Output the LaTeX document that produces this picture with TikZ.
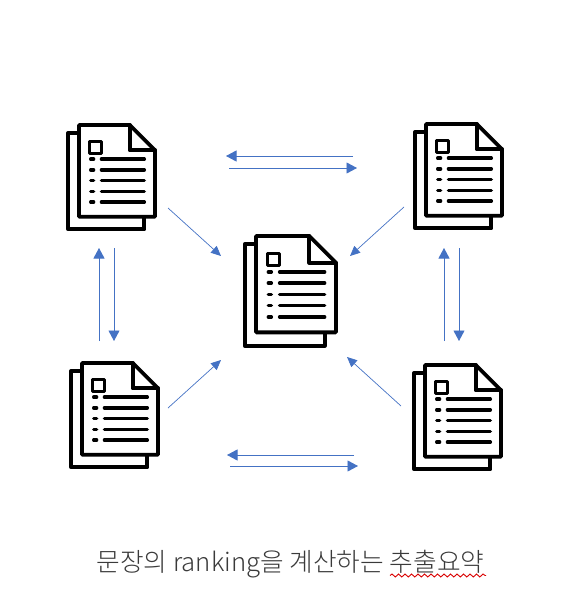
\documentclass[tikz,border=0pt]{standalone}
\usepackage{fontspec}
\newfontfamily\krfont[UprightFont=* Light]{Noto Sans CJK KR}
\usetikzlibrary{arrows.meta,decorations.pathmorphing}
\definecolor{arrowblue}{HTML}{4472C4}
\definecolor{captiongray}{HTML}{3A3A3A}
\tikzset{
  x=1pt,y=-1pt,
  docline/.style={draw=black,line width=3.8pt,line join=round,line cap=round,fill=white},
  docrow/.style={draw=black,line width=3.4pt,line cap=round},
  flow/.style={draw=arrowblue,line width=0.9pt,-{Triangle[length=10.5pt,width=11pt]}},
  diag/.style={draw=arrowblue,line width=0.7pt,-{Triangle[length=10pt,width=9pt]}},
  docicon/.pic={
    % back sheet is only an L behind the front sheet; origin is the front sheet's top left corner
    \draw[docline,fill=none] (0,8) -- (-11,8) -- (-11,107) -- (67,107) -- (67,94);
    \draw[docline] (0,0) -- (52,0) -- (78,26) -- (78,94) -- (0,94) -- cycle;
    \draw[docline,fill=none] (52,0) -- (52,26) -- (78,26);
    \draw[docline,line width=3.4pt,line cap=butt,line join=round] (11,17) rectangle (23,29);
    \foreach \r in {35,46,57,68,79}{
      \draw[docrow] (12,\r) -- (15,\r);
      \draw[docrow] (23,\r) -- (67,\r);
    }
  }
}
\begin{document}
\begin{tikzpicture}
\useasboundingbox (0,0) rectangle (564,602);
\pic[scale=.975] (doctl) at (79,125) {docicon};
\pic[scale=.975] (doctr) at (426,124) {docicon};
\pic[scale=.975] (docbl) at (82,363) {docicon};
\pic[scale=.975] (docbr) at (425,365) {docicon};
\pic[scale=1.025] (docc) at (256,236) {docicon};

\coordinate (t1a) at (353,156); \coordinate (t1b) at (226,156);
\coordinate (t2a) at (229,168); \coordinate (t2b) at (357,168);
\coordinate (b1a) at (354,455); \coordinate (b1b) at (227,455);
\coordinate (b2a) at (230,466); \coordinate (b2b) at (358,466);
\coordinate (l1a) at (99,341);  \coordinate (l1b) at (99,248);
\coordinate (l2a) at (114,248); \coordinate (l2b) at (114,341);
\coordinate (r1a) at (444,341); \coordinate (r1b) at (444,248);
\coordinate (r2a) at (459,248); \coordinate (r2b) at (459,341);
\coordinate (d1a) at (168,208); \coordinate (d1b) at (221,256);
\coordinate (d2a) at (404,207); \coordinate (d2b) at (350,256);
\coordinate (d3a) at (168,408); \coordinate (d3b) at (221,360);
\coordinate (d4a) at (401,406); \coordinate (d4b) at (347,357);
\coordinate (wavea) at (390,575.5); \coordinate (waveb) at (486,575.5);

\draw[flow] (t1a) -- (t1b);
\draw[flow] (t2a) -- (t2b);
\draw[flow] (b1a) -- (b1b);
\draw[flow] (b2a) -- (b2b);
\draw[flow] (l1a) -- (l1b);
\draw[flow] (l2a) -- (l2b);
\draw[flow] (r1a) -- (r1b);
\draw[flow] (r2a) -- (r2b);
\draw[diag] (d1a) -- (d1b);
\draw[diag] (d2a) -- (d2b);
\draw[diag] (d3a) -- (d3b);
\draw[diag] (d4a) -- (d4b);

\node[anchor=base,inner sep=0,text=captiongray,font=\krfont\fontsize{25.7}{30}\selectfont] (caption) at (290.5,571) {문장의 ranking을 계산하는 추출요약};
\draw[red!85!black,line width=0.9pt,decorate,decoration={snake,amplitude=1.5pt,segment length=6.5pt}] (wavea) -- (waveb);
\end{tikzpicture}
\end{document}
